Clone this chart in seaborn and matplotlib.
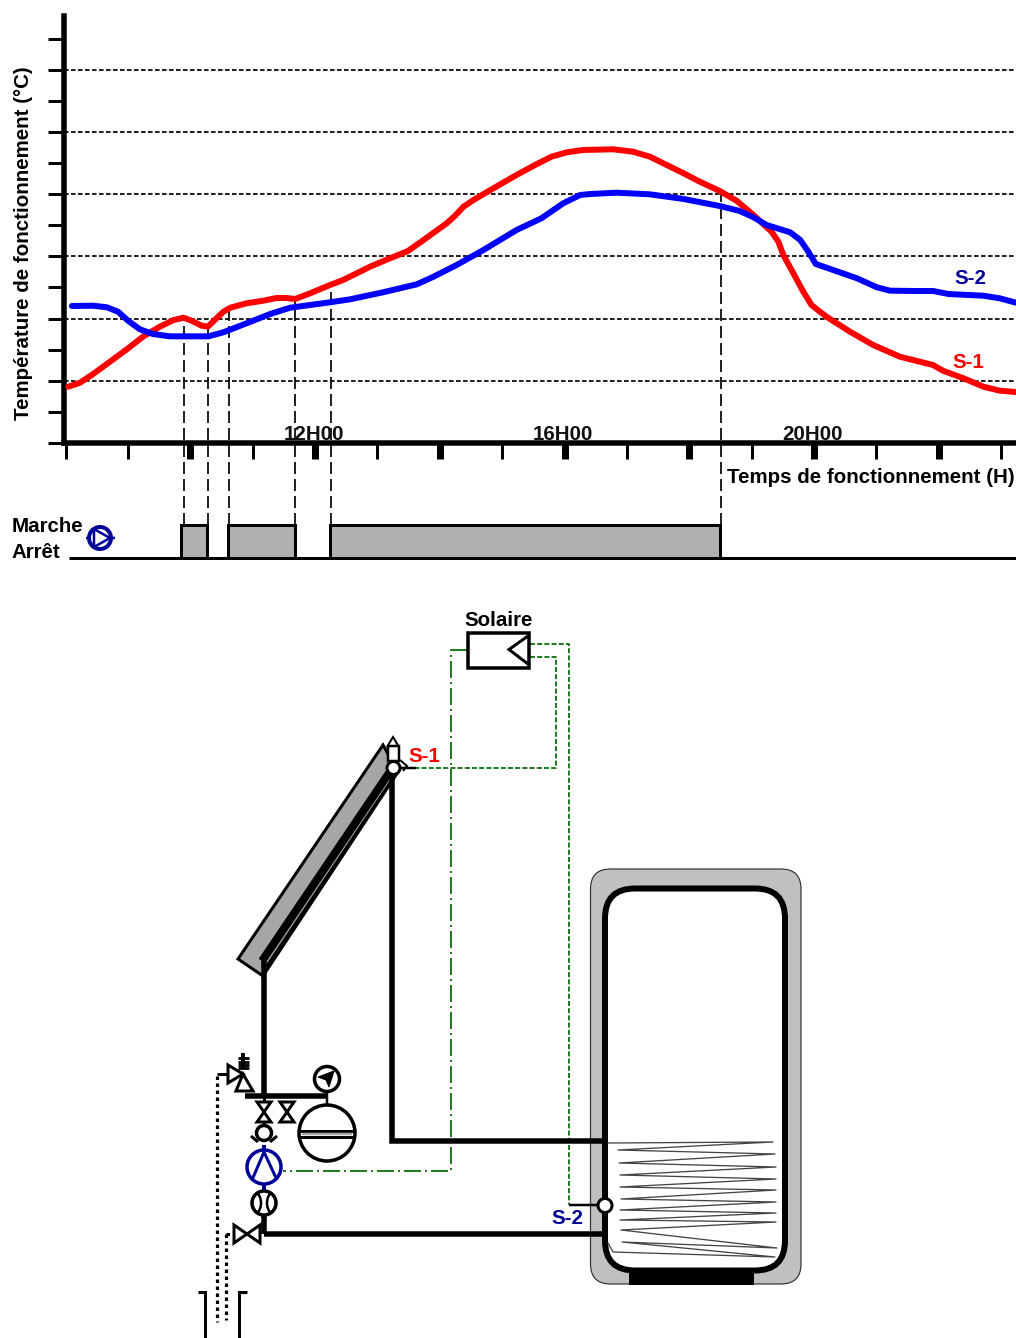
import numpy as np
import matplotlib
matplotlib.use("Agg")
import matplotlib.pyplot as plt
from matplotlib.patches import Circle, Polygon, Rectangle, FancyBboxPatch, Arc
import seaborn as sns

sns.set_style("white")
plt.rcParams['font.family'] = ['Liberation Sans', 'DejaVu Sans']
plt.rcParams['lines.scale_dashes'] = False

# ---------- data ----------
s1_hours = [8.04, 8.23, 8.44, 8.71, 8.98, 9.24, 9.51, 9.73, 9.89, 10.02, 10.18, 10.28, 10.39, 10.53, 10.64, 10.90,
            11.17, 11.38, 11.54, 11.68, 11.92, 12.24, 12.45, 12.72, 12.88, 13.20, 13.49, 13.74, 14.11, 14.24,
            14.38, 14.54, 14.86, 15.23, 15.55, 15.79, 16.04, 16.30, 16.78, 17.10, 17.37, 17.64, 17.91, 18.17,
            18.49, 18.76, 19.03, 19.32, 19.43, 19.51, 19.67, 19.83, 19.96, 20.20, 20.58, 20.95, 21.38, 21.91,
            22.07, 22.40, 22.72, 22.98, 23.24]
s1_temp = [9.05, 9.69, 11.09, 13.07, 15.06, 17.09, 18.70, 19.77, 20.14, 19.66, 18.86, 18.70, 19.77, 21.11, 21.75, 22.46,
           22.88, 23.31, 23.31, 23.15, 24.07, 25.40, 26.21, 27.54, 28.34, 29.69, 30.87, 32.64, 35.32, 36.49,
           37.99, 39.07, 40.95, 43.09, 44.81, 46.03, 46.74, 47.11, 47.22, 46.83, 46.03, 44.69, 43.36, 42.01,
           40.51, 38.95, 36.66, 33.97, 32.36, 30.22, 27.28, 24.32, 22.19, 20.31, 17.89, 15.76, 13.87, 12.54,
           11.62, 10.40, 9.05, 8.41, 8.20]
s2_hours = [8.10, 8.44, 8.66, 8.84, 9.00, 9.19, 9.40, 9.67, 10.29, 10.53, 10.90, 11.28, 11.60, 12.24, 12.56, 13.09,
            13.63, 13.90, 14.27, 14.70, 15.23, 15.63, 15.98, 16.25, 16.41, 16.84, 17.37, 17.91, 18.49, 18.81,
            19.03, 19.24, 19.62, 19.78, 19.91, 20.03, 20.31, 20.69, 21.01, 21.22, 21.59, 21.91, 22.16, 22.72,
            22.98, 23.24]
s2_temp = [22.03, 22.07, 21.82, 21.11, 19.66, 18.28, 17.52, 17.15, 17.15, 17.80, 19.24, 20.74, 21.75, 22.62, 23.10, 24.23,
           25.51, 26.74, 28.62, 31.03, 34.24, 36.13, 38.54, 39.87, 40.03, 40.24, 39.98, 39.23, 38.10, 37.30,
           36.29, 35.05, 33.87, 32.64, 30.76, 28.78, 27.81, 26.48, 25.03, 24.49, 24.44, 24.44, 23.95, 23.68,
           23.26, 22.56]
pump_start = [9.85, 10.61, 12.24]
pump_stop = [10.27, 11.67, 18.50]
drop_hours = [9.89, 10.29, 10.62, 11.68, 12.25, 18.51]
drop_temp = [20.14, 18.70, 21.38, 23.15, 25.72, 40.51]
grid_temps = [10, 20, 30, 40, 50, 60]
hour_labels = {12: "12H00", 16: "16H00", 20: "20H00"}

W, H = 1016, 1338
PX = 0.72
fig = plt.figure(figsize=(W / 100, H / 100), dpi=100, facecolor='white')


def axes_px(x0, y0, x1, y1):
    return fig.add_axes([x0 / W, 1 - y1 / H, (x1 - x0) / W, (y1 - y0) / H])


HLEFT = 7.973
HRIGHT = 23.241
T_PER_PX = 0.16077
FS = 14.8

# ---------- pump state ----------
ax2 = axes_px(64, 525, 1016, 558)
ax2.set_xlim(HLEFT, HRIGHT)
ax2.set_ylim(0, 1)
ax2.axis('off')
ax2.bar(pump_start, [1] * 3, width=np.array(pump_stop) - np.array(pump_start), align='edge',
        color='#b0b0b0', edgecolor='black', linewidth=3 * PX, clip_on=False)
ax2.plot([8.06, HRIGHT], [0, 0], color='black', lw=3 * PX, clip_on=False, solid_capstyle='butt')

# ---------- temperatures ----------
ax = axes_px(64, 16, 1016, 443)
ax.patch.set_alpha(0)
ax.set_xlim(HLEFT, HRIGHT)
ax.set_ylim(0, 427 * T_PER_PX)
for t in grid_temps:
    ax.axhline(t, color='black', lw=1.7 * PX, ls=(0, (4.6 * PX, 2.4 * PX)), zorder=1)
ax.vlines(drop_hours, -82 * T_PER_PX, drop_temp, color='black', lw=1.7 * PX,
          linestyles=[(0, (12 * PX, 5 * PX))], clip_on=False, zorder=2)
sns.lineplot(x=s1_hours, y=s1_temp, color='#ff0000', lw=6 * PX, ax=ax, estimator=None, sort=False, zorder=3,
             solid_joinstyle='round', clip_on=True)
sns.lineplot(x=s2_hours, y=s2_temp, color='#0000ff', lw=6 * PX, ax=ax, estimator=None, sort=False, zorder=4,
             solid_joinstyle='round', clip_on=True)
sns.despine(ax=ax)
for side in ('left', 'bottom'):
    ax.spines[side].set_linewidth(5.5 * PX)
    ax.spines[side].set_color('black')
ax.set_yticks(np.arange(0, 66, 5))
ax.set_yticklabels([])
ax.tick_params(axis='y', left=True, length=16 * PX, width=3 * PX, color='black')
ax.set_xticks(np.arange(10, 23, 2))
ax.set_xticks([8, 9, 11, 13, 15, 17, 19, 21, 23], minor=True)
ax.set_xticklabels([])
ax.tick_params(axis='x', which='major', bottom=True, length=16 * PX, width=7 * PX, color='black')
ax.tick_params(axis='x', which='minor', bottom=True, length=16 * PX, width=3 * PX, color='black')
ax.set_ylabel("Température de fonctionnement (°C)", fontsize=FS, fontweight='bold', va='center', color='black')
ax.yaxis.set_label_coords((24 - 64) / 952, (443 - 243) / 427)
for h, lab in hour_labels.items():
    ax.text(h - 0.02, 8.5 * T_PER_PX, lab, ha='center', va='center', fontsize=FS, fontweight='bold', color='#111111')

# ---------- schematic overlay in picture pixels ----------
s = fig.add_axes([0, 0, 1, 1])
s.set_xlim(0, W)
s.set_ylim(H, 0)
s.axis('off')
s.patch.set_alpha(0)


def L(xs, ys, w=3, c='black', ls='-', z=3, cap='butt'):
    kw = dict(dash_capstyle='butt') if ls != '-' else dict(solid_capstyle=cap, solid_joinstyle='miter')
    s.plot(xs, ys, color=c, lw=w * PX, ls=ls, zorder=z, **kw)


def C(x, y, r, w=3, ec='black', fc='white', z=5):
    s.add_patch(Circle((x, y), r, ec=ec, fc=fc, lw=w * PX, zorder=z))


def P(pts, w=3, ec='black', fc='white', z=5):
    s.add_patch(Polygon(pts, closed=True, ec=ec, fc=fc, lw=w * PX, zorder=z, joinstyle='miter'))


def T(x, y, txt, c='black', size=FS, ha='center'):
    s.text(x, y, txt, color=c, fontsize=size, fontweight='bold', ha=ha, va='center', zorder=9)


NAVY = '#000099'
GREEN = '#0b6e0b'
DASH = (0, (5 * PX, 2.2 * PX))
DADO = (0, (17 * PX, 4 * PX, 2 * PX, 4 * PX))
DOT = (0, (3.5 * PX, 3.5 * PX))

T(871, 477.5, "Temps de fonctionnement (H)")
T(970, 279, "S-2", NAVY)
T(968, 362, "S-1", '#ff0000')
T(12, 527, "Marche", ha='left')
T(11, 552, "Arrêt", ha='left')
# legend pump
C(100, 538, 11, w=4, ec=NAVY)
L([94, 110, 94, 94], [529, 538, 547, 529], w=2.5, c=NAVY, z=6)
L([86, 89], [538, 538], w=2.5, c=NAVY)
L([111, 115], [538, 538], w=2.5, c=NAVY)

# controller
s.add_patch(Rectangle((468, 632.5), 61, 35, fc='white', ec='black', lw=3.5 * PX, zorder=5))
L([528, 509, 528], [636, 649.5, 664], w=3, z=6)
T(499, 620, "Solaire")
# control wiring
L([467, 451, 451, 283], [650, 650, 1171, 1171], w=1.8, c=GREEN, ls=DADO)
L([530, 569, 569], [644, 644, 1205], w=1.8, c=GREEN, ls=DASH)
L([530, 556, 556, 416], [657, 657, 768, 768], w=1.8, c=GREEN, ls=DASH)

# collector
P([(383, 745), (238, 959), (263, 976), (398, 772)], w=3, fc='#a6a6a6', z=2)
L([262, 389], [961, 773], w=8, z=3)
L([266, 393], [967, 778], w=2.5, z=3)
# sensor S-1 and vent
P([(387, 747), (393, 737), (399, 747)], w=2)
s.add_patch(Rectangle((388, 746), 11, 15, fc='white', ec='black', lw=2.5 * PX, zorder=5))
L([400, 407, 403], [760, 766, 771], w=2, z=4)
C(393.5, 768, 6.5, w=3)
L([400, 416], [768, 768], w=2.5)
T(424, 757, "S-1", '#ff0000')

# pipes
L([392, 392, 605], [775, 1141, 1141], w=5.5, z=3)
L([264, 264], [958, 1096], w=5.5, z=3)
L([264, 264], [1096, 1125], w=3, z=3)
L([245, 327], [1096, 1096], w=5.5, z=3, cap='butt')
L([264, 264], [1214, 1234], w=5.5, z=3)
L([264, 605], [1234, 1234], w=5.5, z=3)
L([327, 327], [1090, 1106], w=2.5, z=3)


def bowtie_v(x, y):
    P([(x - 7, y - 10), (x + 7, y - 10), (x, y)])
    P([(x - 7, y + 10), (x + 7, y + 10), (x, y)])


bowtie_v(264, 1112)
bowtie_v(287, 1112)
# drain valve
P([(234, 1225), (234, 1243), (247, 1234)])
P([(260, 1225), (260, 1243), (247, 1234)])
# check valve
C(264, 1133, 7.5, w=3.5)
L([251, 258], [1136, 1142], w=3)
L([277, 270], [1136, 1142], w=3)
# pump
L([264, 264], [1145, 1190], w=4, c=NAVY, z=4)
C(264, 1167, 17, w=3.5, ec=NAVY)
L([252, 264, 277], [1180, 1152, 1180], w=3, c=NAVY, z=6)
# flow meter
C(264, 1203, 12, w=3.5)
s.add_patch(Arc((254, 1203), 14, 22, theta1=-70, theta2=70, ec='black', lw=2.5 * PX, zorder=6))
s.add_patch(Arc((274, 1203), 14, 22, theta1=110, theta2=250, ec='black', lw=2.5 * PX, zorder=6))
# expansion vessel & gauge
C(327, 1133, 28, w=3.5)
L([300, 354], [1130.5, 1130.5], w=3, z=6)
L([300, 354], [1137, 1137], w=3, z=6)
L([302, 352], [1134, 1134], w=2.5, c='#a8a8a8', z=6)
C(327, 1079, 12.5, w=3.5)
P([(334, 1071), (329, 1087), (326, 1080), (318, 1077)], w=1, fc='black', z=6)
# safety valve
P([(228, 1065), (228, 1083), (243, 1074)])
P([(243, 1074), (236, 1091), (253, 1091)])
L([243, 243], [1053, 1068], w=4, z=6)
for yy in (1058, 1061.5, 1065, 1068):
    L([238, 249], [yy, yy], w=2.8, z=6)
L([217, 228], [1074, 1074], w=3)
L([217, 217], [1076, 1322], w=3.2, ls=DOT)
L([226, 234], [1234, 1234], w=3, ls=DOT)
L([226, 226], [1234, 1320], w=3.2, ls=DOT)
# funnel
L([198, 205, 205], [1292, 1292, 1338], w=3)
L([247, 239, 239], [1292, 1292, 1338], w=3)

# tank
s.add_patch(FancyBboxPatch((590.5, 869), 210.5, 415, boxstyle="round,pad=0,rounding_size=20",
                           fc='#c0c0c0', ec='#333333', lw=1.2 * PX, zorder=1))
s.add_patch(Rectangle((629, 1268), 125, 17, fc='black', ec='none', zorder=2))
s.add_patch(FancyBboxPatch((605, 888.5), 180, 382, boxstyle="round,pad=0,rounding_size=30",
                           fc='white', ec='black', lw=6 * PX, zorder=2))
coil_x = [608, 773, 618, 775, 619, 776, 620, 776, 620, 776, 621, 776, 620, 776, 620, 776, 621, 777, 622, 775, 613, 608]
coil_y = [1143, 1142, 1150, 1154, 1163, 1167, 1175, 1179, 1187, 1190, 1199, 1202, 1210, 1213, 1220, 1222, 1230, 1248,
          1242, 1257, 1252, 1243]
s.plot(coil_x, coil_y, color='#444444', lw=1.3 * PX, zorder=3)
# S-2 sensor
L([569, 598], [1205, 1205], w=2.5, z=4)
C(605, 1205.5, 7, w=3, z=6)
T(567, 1219, "S-2", NAVY)

fig.savefig("out.png", dpi=100, facecolor='white')
